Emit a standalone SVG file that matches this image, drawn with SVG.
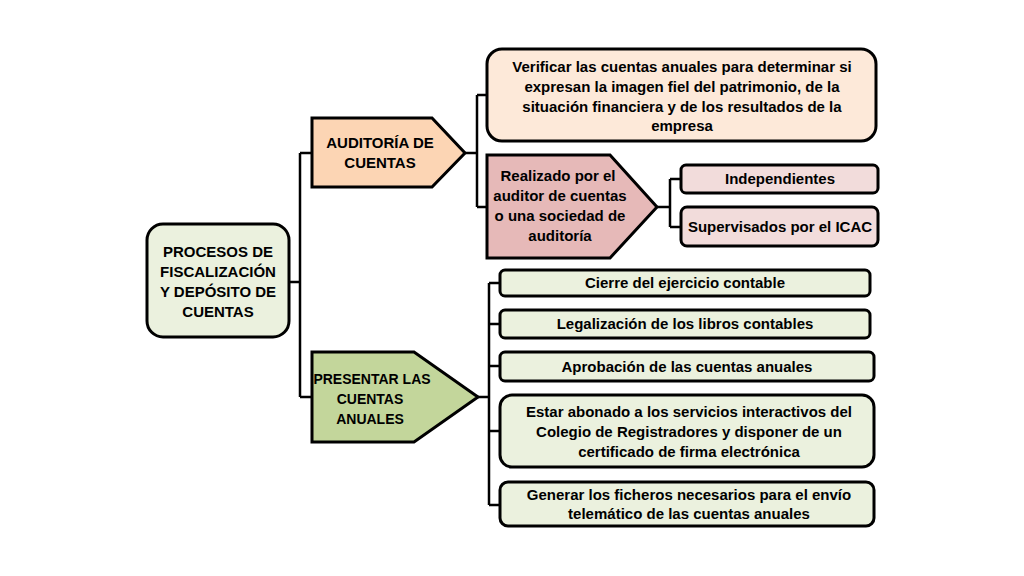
<svg xmlns="http://www.w3.org/2000/svg" width="1024" height="576" viewBox="0 0 1024 576">
<style>
.s{stroke:#000;stroke-width:3;}
.c{fill:none;stroke:#000;stroke-width:2.5;}
text{font-family:"Liberation Sans",Arial,sans-serif;font-weight:bold;font-size:15px;fill:#000;text-anchor:middle;}
.sm{font-size:14px;}
</style>
<rect width="1024" height="576" fill="#fff"/>
<g id="connectors">
<path class="c" d="M289 282H300M300 153V397M300 153H312M300 397H312"/>
<path class="c" d="M465 153H477M477 95V207M477 95H487M477 207H487"/>
<path class="c" d="M657 207H670M670 179V227M670 179H681M670 227H681"/>
<path class="c" d="M478 397H489M489 283V505M489 283H500M489 324H500M489 366H500M489 431H500M489 505H500"/>
</g>
<g id="root"><rect class="s" x="147" y="224" width="142" height="113" rx="16" fill="#ebf1de"/>
<text x="218" y="257">PROCESOS DE</text><text x="218" y="277">FISCALIZACIÓN</text><text x="218" y="297">Y DEPÓSITO DE</text><text x="218" y="317">CUENTAS</text></g>
<g id="auditoria"><path class="s" d="M312 118H432L465 153L432 187H312Z" fill="#fcd5b4"/>
<text x="380" y="148">AUDITORÍA DE</text><text x="380" y="168">CUENTAS</text></g>
<g id="verificar"><rect class="s" x="487" y="49" width="389" height="92" rx="15" fill="#fde9d9"/>
<text x="682" y="72">Verificar las cuentas anuales para determinar si</text><text x="682" y="92">expresan la imagen fiel del patrimonio, de la</text><text x="682" y="112">situación financiera y de los resultados de la</text><text x="682" y="131">empresa</text></g>
<g id="realizado"><path class="s" d="M487 155H610L657 207L610 258H487Z" fill="#e6b9b8"/>
<text x="558" y="181">Realizado por el</text><text x="560" y="201">auditor de cuentas</text><text x="560" y="221">o una sociedad de</text><text x="560" y="241">auditoría</text></g>
<g id="independientes"><rect class="s" x="681" y="165" width="197" height="28" rx="5" fill="#f2dcdb"/><text x="780" y="184">Independientes</text></g>
<g id="supervisados"><rect class="s" x="681" y="207" width="197" height="39" rx="6" fill="#f2dcdb"/><text x="780" y="232">Supervisados por el ICAC</text></g>
<g id="presentar"><path class="s" d="M312 352H414L478 397L414 442H312Z" fill="#c3d69b"/>
<text class="sm" x="372" y="384">PRESENTAR LAS</text><text class="sm" x="370" y="404">CUENTAS</text><text class="sm" x="370" y="424">ANUALES</text></g>
<g id="cierre"><rect class="s" x="500" y="270" width="370" height="26" rx="5" fill="#ebf1de"/><text x="685" y="288">Cierre del ejercicio contable</text></g>
<g id="legalizacion"><rect class="s" x="500" y="310" width="370" height="28" rx="5" fill="#ebf1de"/><text x="685" y="329">Legalización de los libros contables</text></g>
<g id="aprobacion"><rect class="s" x="500" y="352" width="374" height="29" rx="5" fill="#ebf1de"/><text x="687" y="372">Aprobación de las cuentas anuales</text></g>
<g id="estar"><rect class="s" x="500" y="395" width="374" height="72" rx="12" fill="#ebf1de"/>
<text x="689" y="417">Estar abonado a los servicios interactivos del</text><text x="689" y="437">Colegio de Registradores y disponer de un</text><text x="689" y="457">certificado de firma electrónica</text></g>
<g id="generar"><rect class="s" x="500" y="482" width="374" height="44" rx="8" fill="#ebf1de"/>
<text x="689" y="500">Generar los ficheros necesarios para el envío</text><text x="689" y="519">telemático de las cuentas anuales</text></g>
</svg>
